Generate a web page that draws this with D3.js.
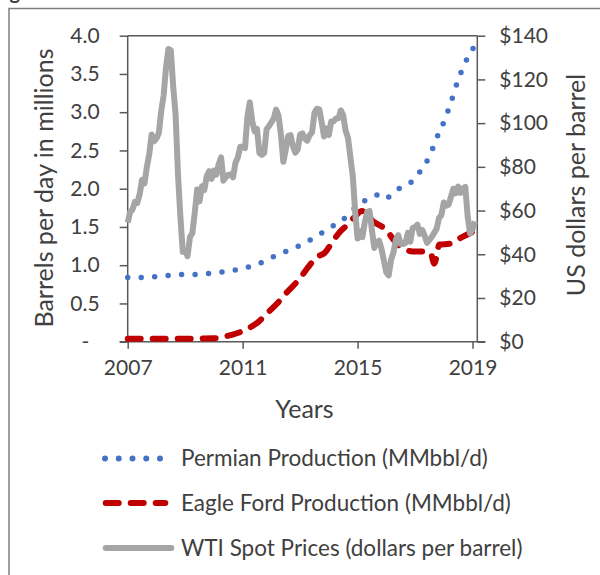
<!DOCTYPE html>
<html>
<head>
<meta charset="utf-8">
<style>
  body { margin: 0; background: #fff; }
  svg text { font-family: Lato, "Open Sans", sans-serif; fill: #404040; }
</style>
</head>
<body>
<svg id="chart" width="600" height="575"></svg>
<script src="https://d3js.org/d3.v7.min.js"></script>
<script>

// monthly WTI spot price, Jan 2007 .. Feb 2019 (dollars per barrel)
var wtiStart = 2007;
var wtiPrices = [
  54.5, 59.3, 60.4, 64.0, 63.5, 67.5, 74.1, 72.4, 79.9, 85.8, 94.8, 91.7,
  93.0, 95.4, 105.5, 112.6, 125.4, 133.9, 133.4, 116.7, 104.1, 76.6, 57.3, 41.1,
  41.7, 39.1, 47.9, 49.7, 59.0, 69.6, 64.2, 71.1, 69.4, 75.7, 78.0, 74.5,
  78.3, 76.4, 81.2, 84.3, 73.7, 75.3, 76.3, 76.6, 75.2, 81.9, 84.3, 89.2,
  89.2, 88.6, 102.9, 109.5, 100.9, 96.3, 97.3, 86.3, 85.5, 86.3, 97.2, 98.6,
  100.3, 102.2, 106.2, 103.3, 94.7, 82.3, 87.9, 94.1, 94.5, 89.5, 86.5, 87.9,
  94.8, 95.3, 92.9, 92.0, 94.5, 95.8, 104.7, 106.6, 106.3, 100.5, 93.9, 97.6,
  94.6, 100.8, 100.8, 102.1, 102.2, 105.8, 103.6, 96.5, 93.2, 84.4, 75.8, 59.3,
  47.2, 50.6, 47.8, 54.5, 59.3, 59.8, 50.9, 42.9, 45.5, 46.2, 42.4, 37.2,
  31.7, 30.3, 37.6, 40.8, 46.7, 48.8, 44.7, 44.7, 45.2, 49.8, 45.7, 52.0,
  52.5, 53.5, 49.3, 51.1, 48.5, 45.2, 46.6, 48.0, 49.8, 51.6, 56.6, 57.9,
  63.7, 62.2, 62.7, 66.3, 70.0, 67.9, 71.0, 68.1, 70.2, 70.8, 57.0, 49.5,
  51.4, 55.0
];

// Permian production (MMbbl/d)
var permianYears = [2007.0, 2007.5, 2008.0, 2008.5, 2009.0, 2009.5, 2010.0, 2010.5,
  2011.0, 2011.5, 2012.0, 2012.5, 2013.0, 2013.5, 2014.0, 2014.5, 2015.0, 2015.5,
  2015.83, 2016.0, 2016.33, 2016.67, 2017.0, 2017.25, 2017.5, 2017.75, 2018.0,
  2018.25, 2018.5, 2018.75, 2019.08];
var permianValues = [0.84, 0.84, 0.85, 0.87, 0.88, 0.88, 0.90, 0.92,
  0.96, 1.01, 1.10, 1.18, 1.26, 1.36, 1.48, 1.60, 1.78, 1.89,
  1.93, 1.88, 1.98, 2.04, 2.13, 2.27, 2.42, 2.66, 2.87,
  3.13, 3.42, 3.65, 3.87];

// Eagle Ford production (MMbbl/d)
var eagleYears = [2007.0, 2008.0, 2009.0, 2010.0, 2010.4, 2010.8, 2011.2, 2011.55,
  2011.85, 2012.2, 2012.55, 2013.0, 2013.25, 2013.6, 2013.85, 2014.1, 2014.35,
  2014.65, 2014.9, 2015.15, 2015.55, 2016.0, 2016.3, 2016.6, 2016.9, 2017.3,
  2017.55, 2017.67, 2017.85, 2018.2, 2018.6, 2019.08];
var eagleValues = [0.04, 0.04, 0.04, 0.045, 0.07, 0.11, 0.175, 0.26,
  0.37, 0.50, 0.65, 0.83, 0.96, 1.11, 1.16, 1.29, 1.42,
  1.53, 1.63, 1.71, 1.57, 1.46, 1.31, 1.22, 1.18, 1.18,
  1.15, 1.02, 1.27, 1.28, 1.36, 1.45];

var yearTicks = [2007, 2011, 2015, 2019];
var leftTicks = [0, 0.5, 1, 1.5, 2, 2.5, 3, 3.5, 4];
var rightTicks = [0, 20, 40, 60, 80, 100, 120, 140];

var seriesNames = ["Permian Production (MMbbl/d)", "Eagle Ford Production (MMbbl/d)", "WTI Spot Prices (dollars per barrel)"];

var svg = d3.select("#chart");

var plotL = 127.7, plotR = 477.3, plotT = 35.7, plotB = 341.7;

var x = d3.scaleLinear().domain([2007, 2007 + 146 / 12]).range([plotL, plotR]);
var yL = d3.scaleLinear().domain([0, 4]).range([plotB, plotT]);
var yR = d3.scaleLinear().domain([0, 140]).range([plotB, plotT]);

// outer frame (cut off by the picture)
svg.append("rect")
  .attr("x", 9).attr("y", 8.5).attr("width", 640).attr("height", 620)
  .attr("fill", "none").attr("stroke", "#7f7f7f").attr("stroke-width", 1.5);
svg.append("text")
  .attr("x", 20).attr("y", -1)
  .attr("text-anchor", "end")
  .style("font-size", "20px").style("font-weight", "bold")
  .text("Fig");

var axisColor = "#595959";

// top border of plot area
svg.append("line")
  .attr("x1", plotL).attr("x2", plotR).attr("y1", plotT).attr("y2", plotT)
  .attr("stroke", axisColor).attr("stroke-width", 1.5);

var gL = svg.append("g")
  .attr("transform", "translate(" + plotL + ",0)")
  .call(d3.axisLeft(yL).tickValues(leftTicks).tickSize(8).tickPadding(20)
    .tickFormat(function (d) { return d === 0 ? "-\u2002" : d3.format(".1f")(d); }));

var gR = svg.append("g")
  .attr("transform", "translate(" + plotR + ",0)")
  .call(d3.axisRight(yR).tickValues(rightTicks).tickSize(8).tickPadding(14)
    .tickFormat(function (d) { return "$" + d; }));

var gX = svg.append("g")
  .attr("transform", "translate(0," + plotB + ")")
  .call(d3.axisBottom(x).tickValues(yearTicks).tickSize(7).tickPadding(10)
    .tickFormat(d3.format("d")));

[gL, gR, gX].forEach(function (g) {
  g.selectAll(".domain").attr("stroke", axisColor).attr("stroke-width", 1.5);
  g.selectAll(".tick line").attr("stroke", axisColor).attr("stroke-width", 1.5);
  g.selectAll(".tick text").style("font-size", "21px").attr("fill", "#404040")
    .style("font-family", "Lato, sans-serif");
});
gL.selectAll(".domain").attr("d", "M0," + plotB + "V" + plotT);
gR.selectAll(".domain").attr("d", "M0," + plotB + "V" + plotT);
gX.selectAll(".domain").attr("d", "M" + (plotL - 8) + ",0H" + (plotR + 8));
gX.selectAll(".tick text").attr("dy", "0.8em");

// axis titles
svg.append("text")
  .attr("transform", "translate(53,188) rotate(-90)")
  .attr("text-anchor", "middle")
  .style("font-size", "25px")
  .text("Barrels per day in millions");
svg.append("text")
  .attr("transform", "translate(585,185) rotate(-90)")
  .attr("text-anchor", "middle")
  .style("font-size", "25px")
  .text("US dollars per barrel");
svg.append("text")
  .attr("x", (plotL + plotR) / 2 + 2).attr("y", 418)
  .attr("text-anchor", "middle")
  .style("font-size", "25px")
  .text("Years");

// series
var permian = permianYears.map(function (t, i) { return [t, permianValues[i]]; });
var eagle = eagleYears.map(function (t, i) { return [t, eagleValues[i]]; });
var wti = wtiPrices.map(function (p, i) { return [wtiStart + i / 12, p]; });

var prodLine = d3.line()
  .x(function (d) { return x(d[0]); })
  .y(function (d) { return yL(d[1]); })
  .curve(d3.curveMonotoneX);

var priceLine = d3.line()
  .x(function (d) { return x(d[0]); })
  .y(function (d) { return yR(d[1]); });

svg.append("path")
  .datum(permian)
  .attr("d", prodLine)
  .attr("fill", "none")
  .attr("stroke", "#4472C4")
  .attr("stroke-width", 5.5)
  .attr("stroke-linecap", "round")
  .attr("stroke-dasharray", "0,13.5");

svg.append("path")
  .datum(eagle)
  .attr("d", prodLine)
  .attr("fill", "none")
  .attr("stroke", "#C00000")
  .attr("stroke-width", 6)
  .attr("stroke-linecap", "round")
  .attr("stroke-dasharray", "13,12");

svg.append("path")
  .datum(wti)
  .attr("d", priceLine)
  .attr("fill", "none")
  .attr("stroke", "#A5A5A5")
  .attr("stroke-width", 6)
  .attr("stroke-linejoin", "round");

// legend
var legendY = [458.5, 503, 548];
var legend = svg.append("g");
legend.append("line")
  .attr("x1", 105).attr("x2", 161).attr("y1", legendY[0]).attr("y2", legendY[0])
  .attr("stroke", "#4472C4").attr("stroke-width", 6)
  .attr("stroke-linecap", "round").attr("stroke-dasharray", "0,13.75");
legend.append("line")
  .attr("x1", 105.7).attr("x2", 165.3).attr("y1", legendY[1]).attr("y2", legendY[1])
  .attr("stroke", "#C00000").attr("stroke-width", 6)
  .attr("stroke-linecap", "round").attr("stroke-dasharray", "13,12");
legend.append("line")
  .attr("x1", 105.7).attr("x2", 171.3).attr("y1", legendY[2]).attr("y2", legendY[2])
  .attr("stroke", "#A5A5A5").attr("stroke-width", 6)
  .attr("stroke-linecap", "round");
legend.selectAll("text")
  .data(seriesNames)
  .enter().append("text")
  .attr("x", 181)
  .attr("y", function (d, i) { return legendY[i]; })
  .attr("dy", "0.35em")
  .style("font-size", "22.5px")
  .text(function (d) { return d; });

</script>
</body>
</html>
